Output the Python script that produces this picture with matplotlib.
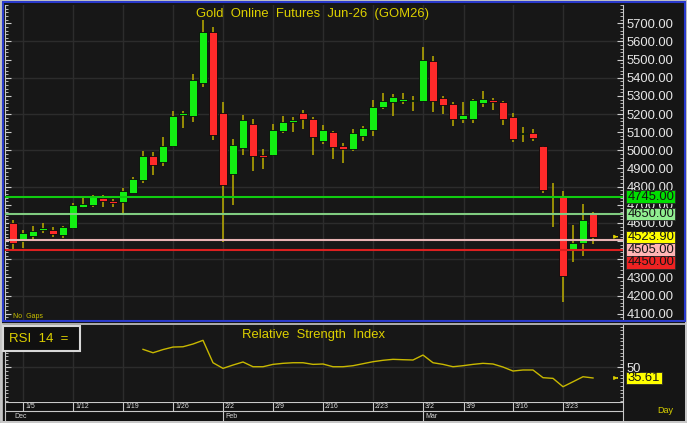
import numpy as np
import matplotlib.pyplot as plt
import matplotlib.transforms as mtransforms
from matplotlib.patches import Rectangle
from matplotlib.ticker import MultipleLocator

plt.rcParams['font.family'] = ['Liberation Sans', 'DejaVu Sans']

# daily OHLC, 59 sessions (first bar = Jan 2, last = Mar 26)
opens = [4601, 4502, 4530, 4561, 4563, 4534, 4574, 4689, 4701, 4739,
         4723, 4714, 4767, 4835, 4969, 4938, 5026, 5193, 5191, 5373,
         5654, 5204, 4870, 5011, 5145, 4974, 4974, 5107, 5158, 5207,
         5171, 5052, 5101, 5024, 5009, 5079, 5112, 5241, 5266, 5270,
         5272, 5274, 5492, 5287, 5256, 5171, 5174, 5263, 5277, 5266,
         5182, 5092, 5097, 5024, 4748, 4745, 4451, 4488, 4649]
highs = [4616, 4561, 4583, 4601, 4579, 4585, 4708, 4739, 4755, 4754,
         4734, 4791, 4852, 4996, 4989, 5075, 5218, 5218, 5421, 5718,
         5681, 5268, 5061, 5195, 5171, 5006, 5145, 5191, 5182, 5222,
         5185, 5140, 5105, 5039, 5116, 5134, 5277, 5318, 5310, 5318,
         5301, 5568, 5520, 5301, 5266, 5266, 5281, 5327, 5287, 5272,
         5207, 5127, 5116, 5026, 4818, 4776, 4589, 4704, 4659]
lows = [4447, 4460, 4505, 4543, 4524, 4519, 4565, 4681, 4686, 4690,
        4690, 4644, 4763, 4822, 4866, 4915, 5020, 5121, 5158, 5347,
        5057, 4493, 4699, 4975, 4886, 4896, 4969, 5094, 5099, 5118,
        4974, 5035, 4954, 4932, 4998, 5052, 5079, 5230, 5189, 5255,
        5218, 5270, 5213, 5200, 5134, 5152, 5149, 5241, 5222, 5140,
        5048, 5048, 5053, 4763, 4579, 4163, 4387, 4420, 4484]
closes = [4491, 4543, 4556, 4572, 4539, 4578, 4699, 4704, 4749, 4719,
          4708, 4774, 4844, 4969, 4921, 5024, 5189, 5204, 5386, 5652,
          5085, 4811, 5030, 5167, 4971, 4965, 5112, 5156, 5167, 5173,
          5072, 5112, 5020, 5009, 5094, 5125, 5241, 5270, 5292, 5285,
          5277, 5498, 5272, 5252, 5171, 5196, 5277, 5281, 5266, 5171,
          5061, 5097, 5070, 4782, 4744, 4308, 4488, 4616, 4523.90]

# RSI(14), starts at bar 13
rsi_start = 13
rsi = [74.3, 69.7, 74.0, 77.4, 77.8, 81.5, 86.5, 56.2, 48.6, 53.1,
       57.2, 50.8, 50.8, 54.0, 55.4, 56.2, 56.2, 54.0, 54.5, 50.8,
       50.8, 52.2, 54.9, 57.6, 59.5, 60.8, 60.3, 59.9, 66.6, 56.2,
       54.0, 50.8, 52.2, 54.0, 55.4, 54.5, 50.4, 45.0, 46.4, 46.4,
       36.0, 35.1, 23.8, 30.5, 37.3, 35.61]

week_idx = [1, 6, 11, 16, 21, 26, 31, 36, 41, 45.1, 50, 55]
week_labels = ['1/5', '1/12', '1/19', '1/26', '2/2', '2/9', '2/16', '2/23',
               '3/2', '3/9', '3/16', '3/23']
month_idx = [0.1, 21.2, 41.2]
month_labels = ['Dec', 'Feb', 'Mar']

price_ticks = [4100, 4200, 4300, 4400, 4500, 4600, 4700, 4800, 4900,
               5000, 5100, 5200, 5300, 5400, 5500, 5600, 5700]
hidden_ticks = [4400, 4500]   # fully covered by the value tags

levels = [4745, 4650, 4505, 4450]
level_line_colors = ['#10cc10', '#80cc80', '#e8b4b4', '#dd2020']
level_box_colors = ['#00e000', '#90ee90', '#ffb4b4', '#ee2222']

W, H = 687, 423
fig = plt.figure(figsize=(W / 100, H / 100), dpi=100, facecolor='#151515')

def box(x0, y0, x1, y1):
    return fig.add_axes([x0 / W, 1 - y1 / H, (x1 - x0) / W, (y1 - y0) / H])

def frame(x0, y0, x1, y1, color, lw):
    fig.add_artist(Rectangle((x0 / W, 1 - y1 / H), (x1 - x0) / W, (y1 - y0) / H,
                             transform=fig.transFigure, fill=False, ec=color, lw=lw))

def value_box(a, y, text, bg, h, w=0.0798):
    # fixed-size tag on the right-hand scale, h in data units
    tr = mtransforms.blended_transform_factory(a.transAxes, a.transData)
    a.add_patch(Rectangle((1.0045, y - h / 2), w, h, transform=tr, fc=bg,
                          ec='#2a2a2a', lw=0.6, clip_on=False, zorder=9))
    a.text(1.0075, y, text, transform=tr, ha='left', va='center', fontsize=9.4,
           color='#151515', clip_on=False, zorder=10)

GREEN, RED, WICK = '#12f012', '#ff2a2a', '#bcae00'
YEL = '#ddd000'
GRID = '#2c2c2c'
XL = (-0.8, 61.0)

# ---- price panel
ax = box(5, 5, 623, 320)
ax.set_facecolor('#171717')
ax.set_xlim(*XL)
ax.set_ylim(4065, 5801)
for x in week_idx:
    ax.axvline(x, color=GRID, lw=1, zorder=1)
for y in [4200, 4400, 4600, 4800, 5000, 5200, 5400, 5600]:
    ax.axhline(y, color=GRID, lw=1, zorder=1)

for i in range(len(opens)):
    o, h, l, c = opens[i], highs[i], lows[i], closes[i]
    ax.vlines(i, l, h, color=WICK, lw=1.1, zorder=3)
    lo = min(o, c)
    ht = max(abs(c - o), 6)
    ax.add_patch(Rectangle((i - 0.42, lo), 0.84, ht, fc=GREEN if c >= o else RED,
                           ec='#0a0a0a', lw=0.6, zorder=4))

for v, col in zip(levels, level_line_colors):
    ax.axhline(v, color=col, lw=1.5, zorder=5)

ax.set_xticks([])
ax.set_yticks(price_ticks)
ax.set_yticklabels(['' if v in hidden_ticks else f'{v:.2f}' for v in price_ticks])
ax.yaxis.set_minor_locator(MultipleLocator(20))
ax.tick_params(axis='y', which='both', direction='in', left=True, right=True,
               labelleft=False, labelright=True, color='#d0d0d0',
               labelcolor='#e6e6e6', labelsize=9.4, pad=2.5)
ax.tick_params(axis='y', which='major', length=4)
ax.tick_params(axis='y', which='minor', length=2)
for s in ['top', 'bottom']:
    ax.spines[s].set_visible(False)
for s in ['left', 'right']:
    ax.spines[s].set_color('#c8c8c8')
    ax.spines[s].set_linewidth(0.8)

# value tags on the price scale, stacked so they don't overlap
box_vals = [4745, 4650, closes[-1], 4505, 4450]
box_cols = [level_box_colors[0], level_box_colors[1], '#ffff00',
            level_box_colors[2], level_box_colors[3]]
prev = None
for v, bg in zip(box_vals, box_cols):
    ypos = v if prev is None else min(v, prev - 71)
    prev = ypos
    value_box(ax, ypos, f'{v:.2f}', bg, 68)
ax.annotate('', xy=(60.75, closes[-1]), xytext=(60.15, closes[-1]),
            arrowprops=dict(arrowstyle='-|>', color=YEL, lw=0.8, mutation_scale=5),
            annotation_clip=False)

fig.text(313 / W, 1 - 14 / H, 'Gold  Online  Futures  Jun-26  (GOM26)',
         color=YEL, fontsize=9.4, ha='center', va='center')
fig.text(13 / W, 1 - 316 / H, 'No  Gaps', color='#c8c000', fontsize=5, va='center')

# ---- RSI panel
rx = box(5, 325, 623, 401)
rx.set_facecolor('#171717')
rx.set_xlim(*XL)
rx.set_ylim(4.5, 107.2)
for x in week_idx:
    rx.axvline(x, color=GRID, lw=1, zorder=1)
rx.axhline(50, color=GRID, lw=1, zorder=1)
rx.plot(np.arange(rsi_start, rsi_start + len(rsi)), rsi, color='#c8b800', lw=1, zorder=3)
rx.set_xticks([])
rx.set_yticks([50])
rx.set_yticklabels(['50'])
rx.yaxis.set_minor_locator(MultipleLocator(5))
rx.tick_params(axis='y', which='both', direction='in', left=True, right=True,
               labelleft=False, labelright=True, color='#d0d0d0',
               labelcolor='#e6e6e6', labelsize=9.4, pad=2.5)
rx.tick_params(axis='y', which='major', length=4)
rx.tick_params(axis='y', which='minor', length=2)
for s in ['top', 'bottom']:
    rx.spines[s].set_visible(False)
for s in ['left', 'right']:
    rx.spines[s].set_color('#c8c8c8')
    rx.spines[s].set_linewidth(0.8)
value_box(rx, rsi[-1], f'{rsi[-1]:.2f}', '#ffff00', 15.8, w=0.058)
rx.annotate('', xy=(60.75, rsi[-1]), xytext=(60.15, rsi[-1]),
            arrowprops=dict(arrowstyle='-|>', color=YEL, lw=0.8, mutation_scale=5),
            annotation_clip=False)

fig.add_artist(Rectangle((3 / W, 1 - 351 / H), 77 / W, 25 / H, transform=fig.transFigure,
                         fc='#101010', ec='#d8d8d8', lw=1.5, zorder=5))
fig.text(9 / W, 1 - 338.5 / H, 'RSI  14  =', color=YEL, fontsize=9.5, va='center', zorder=6)
fig.text(313 / W, 1 - 335 / H, 'Relative  Strength  Index', color=YEL, fontsize=9.4,
         ha='center', va='center')

# ---- date strip
dx = box(5, 402, 623, 422)
dx.set_facecolor('#111111')
dx.set_xlim(*XL)
dx.set_ylim(0, 20)
dx.axhline(19.8, color='#c8c8c8', lw=0.8)
dx.axhline(11.3, color='#c8c8c8', lw=0.8)
dx.vlines(week_idx, 11.3, 20, color='#c8c8c8', lw=0.8)
dx.vlines([21, 41], 0, 11.3, color='#c8c8c8', lw=0.8)
for x, lab in zip(week_idx, week_labels):
    dx.text(x + 0.2, 15.4, lab, fontsize=5, color='#d8d8d8', va='center')
for x, lab in zip(month_idx, month_labels):
    dx.text(x, 5.6, lab, fontsize=5, color='#d8d8d8', va='center')
dx.set_xticks([])
dx.set_yticks([])
for s in ['top', 'bottom']:
    dx.spines[s].set_visible(False)
for s in ['left', 'right']:
    dx.spines[s].set_color('#c8c8c8')
    dx.spines[s].set_linewidth(0.8)
fig.text(665 / W, 1 - 410 / H, 'Day', color='#d8d000', fontsize=6.5, ha='center', va='center')

# ---- panel frames
frame(0.7, 0.7, 686.3, 422.3, '#c8c8c8', 1.4)
frame(2.6, 2.2, 684.6, 320.6, '#2a3acc', 1.5)
frame(1.5, 323.5, 685.5, 422, '#c8c8c8', 1.2)

fig.savefig('out.png', dpi=100, facecolor=fig.get_facecolor())
